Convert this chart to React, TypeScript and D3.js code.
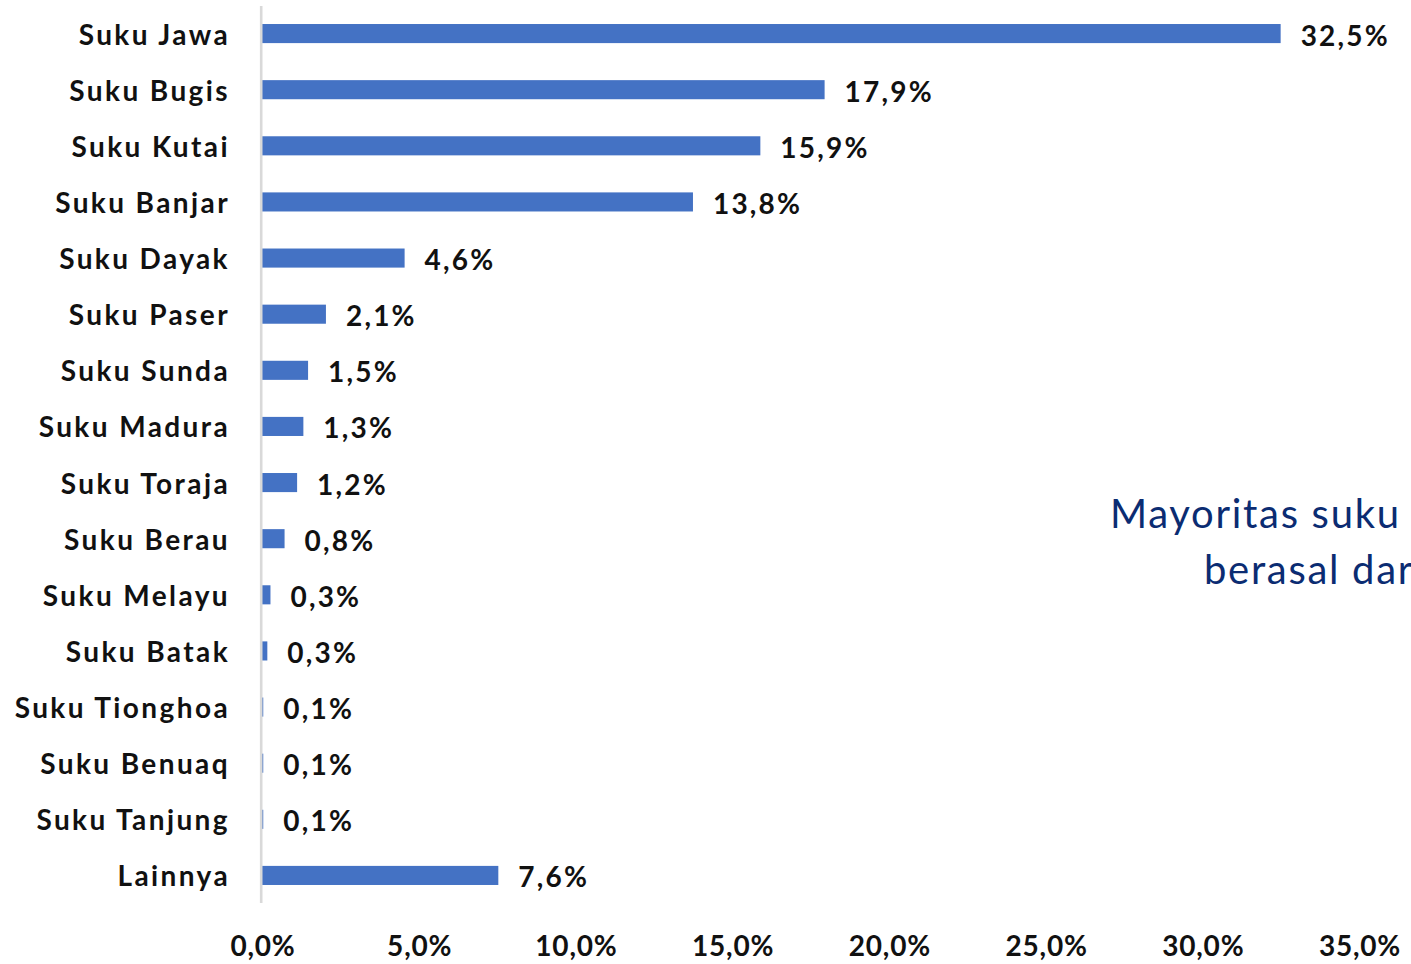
import React from "react";
import * as d3 from "d3";

const categories = [
  "Suku Jawa", "Suku Bugis", "Suku Kutai", "Suku Banjar", "Suku Dayak", "Suku Paser",
  "Suku Sunda", "Suku Madura", "Suku Toraja", "Suku Berau", "Suku Melayu", "Suku Batak",
  "Suku Tionghoa", "Suku Benuaq", "Suku Tanjung", "Lainnya",
];
// bar lengths (percent)
const values = [32.5, 17.95, 15.9, 13.75, 4.55, 2.04, 1.47, 1.32, 1.12, 0.72, 0.27, 0.17, 0.04, 0.04, 0.04, 7.54];
// printed data labels
const valueLabels = ["32,5%", "17,9%", "15,9%", "13,8%", "4,6%", "2,1%", "1,5%", "1,3%", "1,2%", "0,8%", "0,3%", "0,3%", "0,1%", "0,1%", "0,1%", "7,6%"];
const ticks = [0, 5, 10, 15, 20, 25, 30, 35];
const noteLines = ["Mayoritas suku", "berasal dari"];

const W = 1411, H = 964;
const FONT = "Lato, 'Open Sans', sans-serif";

export default function App() {
  const x = d3.scaleLinear().domain([0, 35]).range([262, 1359]);
  const y = d3.scaleBand<string>().domain(categories).range([5.5, 903.5]).paddingInner(0.66).paddingOuter(0.33);
  const bw = y.bandwidth();
  const fmt = (v: number) => d3.format(".1f")(v).replace(".", ",") + "%";
  return (
    <svg width={W} height={H} style={{ position: "absolute", left: 0, top: 0, background: "#fff" }}>
      <rect x={0} y={0} width={W} height={H} fill="#fff" />
      {categories.map((c, i) => {
        const cy = (y(c) as number) + bw / 2;
        return (
          <g key={c}>
            <rect x={x(0)} y={y(c)} width={Math.max(0, x(values[i]) - x(0))} height={bw} fill="#4472C4" />
            <text x={230} y={cy + 11} textAnchor="end" fontFamily={FONT} fontWeight={700} fontSize={28} letterSpacing={2.4} fill="#111">{c}</text>
            <text x={x(values[i]) + 20} y={cy + 12} fontFamily={FONT} fontWeight={700} fontSize={28} letterSpacing={2.2} fill="#111">{valueLabels[i]}</text>
          </g>
        );
      })}
      <line x1={x(0) - 0.8} x2={x(0) - 0.8} y1={6} y2={903} stroke="#D9D9D9" strokeWidth={2.6} />
      {ticks.map((t) => (
        <text key={t} x={x(t) + 1} y={956} textAnchor="middle" fontFamily={FONT} fontWeight={700} fontSize={28} letterSpacing={0.8} fill="#111">{fmt(t)}</text>
      ))}
      <text x={1110} y={528} fontFamily={FONT} fontSize={40} letterSpacing={1.7} fill="#0B2C72">{noteLines[0]}</text>
      <text x={1204} y={584} fontFamily={FONT} fontSize={40} letterSpacing={1.7} fill="#0B2C72">{noteLines[1]}</text>
    </svg>
  );
}
